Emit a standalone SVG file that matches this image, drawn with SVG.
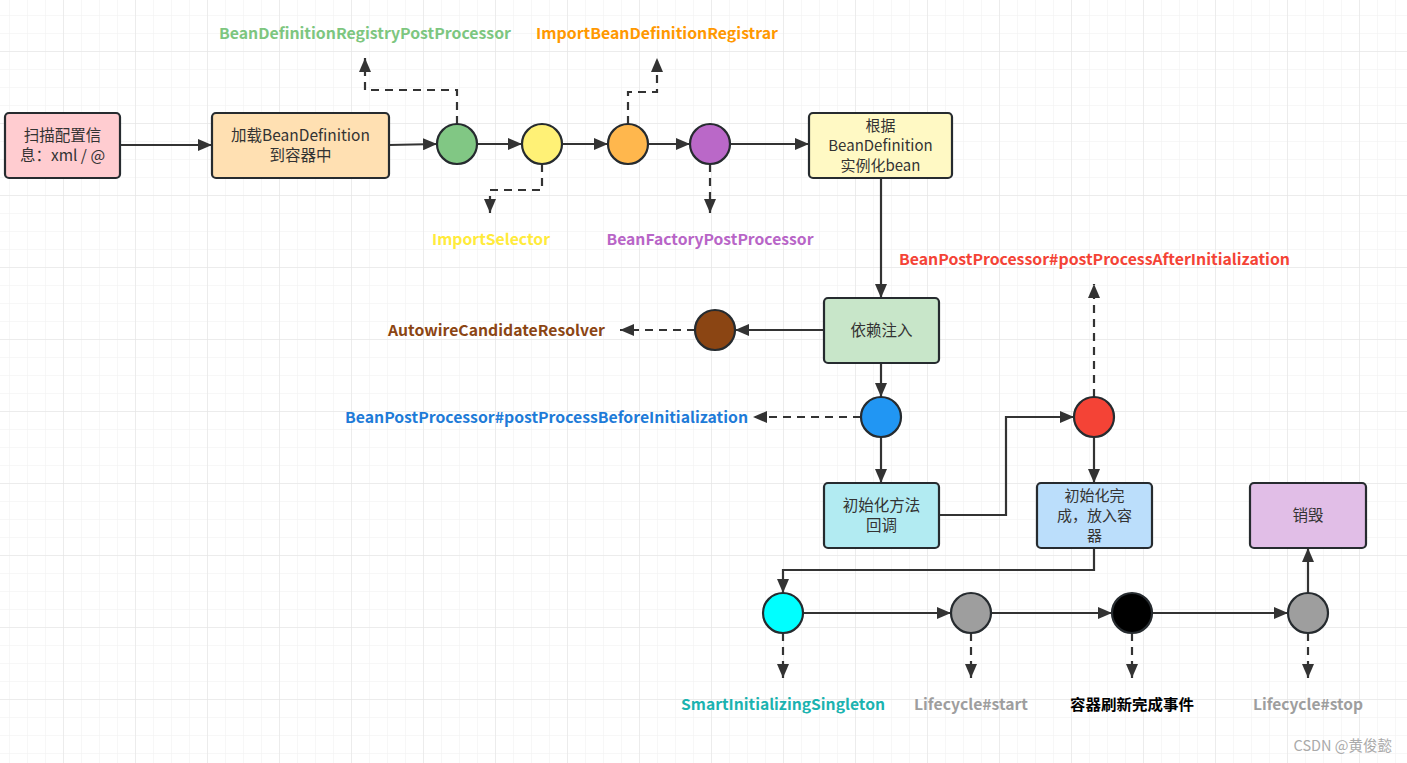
<svg xmlns="http://www.w3.org/2000/svg" width="1407" height="763" viewBox="0 0 1407 763">
<defs>
<pattern id="minor" patternUnits="userSpaceOnUse" x="9" y="15" width="18" height="18">
<path d="M0 0V18M0 0H18" fill="none" stroke="#f0f0f0" stroke-width="1"/>
</pattern>
<pattern id="major" patternUnits="userSpaceOnUse" x="63" y="51" width="72" height="72">
<path d="M0 0V72M0 0H72" fill="none" stroke="#e2e2e2" stroke-width="1"/>
</pattern>
<marker id="arr" markerUnits="userSpaceOnUse" markerWidth="15" markerHeight="12" viewBox="0 0 15 12" refX="14" refY="6" orient="auto">
<path d="M0 0L14 6L0 12Z" fill="#333"/>
</marker>
</defs>
<style>
.box{stroke:#262b2f;stroke-width:2.2}
.dot{stroke:#262b2f;stroke-width:2.2}
.bt{font-family:"Noto Sans CJK SC","Microsoft YaHei",sans-serif;font-size:15.5px;fill:#333;text-anchor:middle}
.b3{font-size:15px}
.lb{font-family:"Noto Sans CJK SC","Microsoft YaHei",sans-serif;font-size:15px;font-weight:bold;text-anchor:middle}
.c path{fill:none;stroke:#333;stroke-width:2.2;marker-end:url(#arr)}
.c .d{stroke-dasharray:8 6}
</style>
<rect width="1407" height="763" fill="#fff"/>
<rect width="1407" height="763" fill="url(#minor)"/>
<rect width="1407" height="763" fill="url(#major)"/>

<g id="connectors" class="c">
<path d="M120 145H212"/>
<path d="M389 145L437 144"/>
<path d="M477 144H522"/>
<path d="M562 144H608"/>
<path d="M648 144H690"/>
<path d="M730 144H809"/>
<path class="d" d="M457 124V90H365V58"/>
<path class="d" d="M542 164V190H490V213"/>
<path class="d" d="M628 124V92H657V58"/>
<path class="d" d="M710 164V213"/>
<path d="M881 178V298"/>
<path d="M824 330H735"/>
<path class="d" d="M695 330H620"/>
<path d="M881 363V397"/>
<path class="d" d="M861 417H753"/>
<path d="M881 437V483"/>
<path d="M939 515H1006V417H1074"/>
<path class="d" d="M1094 397V284"/>
<path d="M1094 437V483"/>
<path d="M1094 548V570H783V593"/>
<path d="M803 613H951"/>
<path d="M991 613H1112"/>
<path d="M1152 613H1288"/>
<path d="M1308 593V548"/>
<path class="d" d="M783 633V678"/>
<path class="d" d="M971 633V678"/>
<path class="d" d="M1132 633V678"/>
<path class="d" d="M1308 633V678"/>
</g>

<g id="scan"><rect class="box" x="5" y="113" width="115" height="65" rx="4" fill="#ffccd0"/>
<text class="bt" x="62.5" y="141">扫描配置信</text><text class="bt" x="62.5" y="161">息：xml / @</text></g>
<g id="load"><rect class="box" x="212" y="113" width="177" height="65" rx="4" fill="#ffe0b2"/>
<text class="bt" x="300.5" y="141">加载BeanDefinition</text><text class="bt" x="300.5" y="161">到容器中</text></g>
<g id="c-green"><circle class="dot" cx="457" cy="144" r="20" fill="#81c784"/></g>
<g id="c-yellow"><circle class="dot" cx="542" cy="144" r="20" fill="#fff176"/></g>
<g id="c-orange"><circle class="dot" cx="628" cy="144" r="20" fill="#ffb74d"/></g>
<g id="c-purple"><circle class="dot" cx="710" cy="144" r="20" fill="#ba68c8"/></g>
<g id="inst"><rect class="box" x="809" y="113" width="143" height="65" rx="4" fill="#fff9c4"/>
<text class="bt b3" x="880.5" y="131">根据</text><text class="bt b3" x="880.5" y="151">BeanDefinition</text><text class="bt b3" x="880.5" y="171">实例化bean</text></g>
<g id="di"><rect class="box" x="824" y="298" width="115" height="65" rx="4" fill="#c8e6c9"/>
<text class="bt" x="881.5" y="336">依赖注入</text></g>
<g id="c-brown"><circle class="dot" cx="715" cy="330" r="20" fill="#8b4513"/></g>
<g id="c-blue"><circle class="dot" cx="881" cy="417" r="20" fill="#2196f3"/></g>
<g id="initcb"><rect class="box" x="824" y="483" width="115" height="65" rx="4" fill="#b2ebf2"/>
<text class="bt" x="881.5" y="511">初始化方法</text><text class="bt" x="881.5" y="531">回调</text></g>
<g id="c-red"><circle class="dot" cx="1094" cy="417" r="20" fill="#f44336"/></g>
<g id="initdone"><rect class="box" x="1037" y="483" width="115" height="65" rx="4" fill="#bbdefb"/>
<text class="bt b3" x="1094.5" y="501">初始化完</text><text class="bt b3" x="1094.5" y="521">成，放入容</text><text class="bt b3" x="1094.5" y="541">器</text></g>
<g id="destroy"><rect class="box" x="1250" y="483" width="116" height="65" rx="4" fill="#e1bee7"/>
<text class="bt" x="1308" y="521">销毁</text></g>
<g id="c-cyan"><circle class="dot" cx="783" cy="613" r="20" fill="#00ffff"/></g>
<g id="c-grey1"><circle class="dot" cx="971" cy="613" r="20" fill="#9e9e9e"/></g>
<g id="c-black"><circle class="dot" cx="1132" cy="613" r="20" fill="#000"/></g>
<g id="c-grey2"><circle class="dot" cx="1308" cy="613" r="20" fill="#9e9e9e"/></g>

<g id="labels">
<text class="lb" x="365" y="39" fill="#7dc67f" textLength="292" lengthAdjust="spacingAndGlyphs">BeanDefinitionRegistryPostProcessor</text>
<text class="lb" x="657" y="39" fill="#ff9800" textLength="242" lengthAdjust="spacingAndGlyphs">ImportBeanDefinitionRegistrar</text>
<text class="lb" x="491" y="245" fill="#ffeb3b" textLength="118" lengthAdjust="spacingAndGlyphs">ImportSelector</text>
<text class="lb" x="710" y="245" fill="#b865c7" textLength="207" lengthAdjust="spacingAndGlyphs">BeanFactoryPostProcessor</text>
<text class="lb" x="1094.5" y="265" fill="#f44336" textLength="391" lengthAdjust="spacingAndGlyphs">BeanPostProcessor#postProcessAfterInitialization</text>
<text class="lb" x="496.5" y="336" fill="#8b4513" textLength="217" lengthAdjust="spacingAndGlyphs">AutowireCandidateResolver</text>
<text class="lb" x="546.5" y="423" fill="#1e7bd8" textLength="403" lengthAdjust="spacingAndGlyphs">BeanPostProcessor#postProcessBeforeInitialization</text>
<text class="lb" x="783" y="710" fill="#1bb3b0" textLength="204" lengthAdjust="spacingAndGlyphs">SmartInitializingSingleton</text>
<text class="lb" x="971" y="710" fill="#9e9e9e" textLength="114" lengthAdjust="spacingAndGlyphs">Lifecycle#start</text>
<text class="lb" x="1132" y="710" fill="#000" font-weight="normal" textLength="124" lengthAdjust="spacingAndGlyphs">容器刷新完成事件</text>
<text class="lb" x="1308" y="710" fill="#9e9e9e" textLength="110" lengthAdjust="spacingAndGlyphs">Lifecycle#stop</text>
<text x="1392" y="751" font-family="'Noto Sans CJK SC',sans-serif" font-size="14.5" fill="#aaa" text-anchor="end">CSDN @黄俊懿</text>
</g>
</svg>
